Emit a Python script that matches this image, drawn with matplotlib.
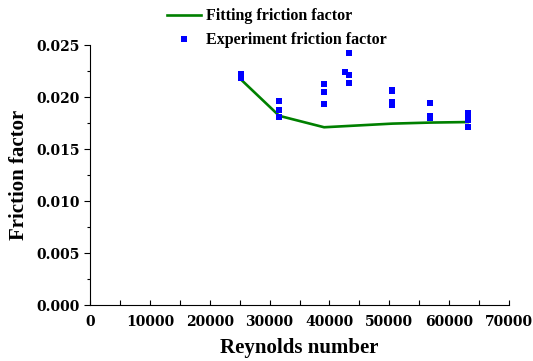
import matplotlib.pyplot as plt
from matplotlib.ticker import MultipleLocator, FuncFormatter

# Experiment points (Reynolds number, friction factor)
exp_re = [25200, 25200, 25200,
          31600, 31600, 31600,
          39100, 39100, 39100,
          42600, 43200, 43200, 43200,
          50500, 50500, 50500, 50500,
          56800, 56800, 56800,
          63100, 63100, 63100, 63100]
exp_f = [0.0222, 0.0220, 0.0218,
         0.0196, 0.0188, 0.0181,
         0.0213, 0.0205, 0.0193,
         0.0224, 0.0242, 0.0221, 0.0214,
         0.0207, 0.0206, 0.0195, 0.0192,
         0.0194, 0.0182, 0.0180,
         0.0185, 0.0182, 0.0178, 0.0171]

# Fitted curve
fit_re = [25200, 31600, 39100, 50500, 56800, 63100]
fit_f = [0.0217, 0.0182, 0.0171, 0.01745, 0.01755, 0.0176]

fig = plt.figure(figsize=(5.33, 3.61), dpi=100)
ax = fig.add_axes([0.169, 0.155, 0.786, 0.72])

ax.plot(fit_re, fit_f, color='#008000', lw=1.9, label='Fitting friction factor')
ax.plot(exp_re, exp_f, 's', color='#0000ff', ms=5, mew=0, label='Experiment friction factor')

ax.set_xlim(0, 70000)
ax.set_ylim(0, 0.025)
ax.xaxis.set_major_locator(MultipleLocator(10000))
ax.xaxis.set_minor_locator(MultipleLocator(5000))
ax.yaxis.set_major_locator(MultipleLocator(0.005))
ax.yaxis.set_minor_locator(MultipleLocator(0.0025))
ax.yaxis.set_major_formatter(FuncFormatter(lambda v, p: f"{v:.3f}"))

for s in ['top', 'right']:
    ax.spines[s].set_visible(False)
ax.tick_params(axis='x', which='both', direction='in', length=3.5, width=0.8, pad=7)
ax.tick_params(axis='y', which='major', direction='out', length=4, width=0.8)
ax.tick_params(axis='y', which='minor', direction='out', length=2, width=0.8)

for lab in ax.get_xticklabels() + ax.get_yticklabels():
    lab.set_fontfamily('DejaVu Serif')
    lab.set_fontweight('bold')
    lab.set_fontsize(10)

ax.set_xlabel('Reynolds number', family='Liberation Serif', weight='bold', size=15, labelpad=7)
ax.set_ylabel('Friction factor', family='Liberation Serif', weight='bold', size=15, labelpad=5)

fig.legend(loc='upper left', bbox_to_anchor=(0.302, 0.995), frameon=False,
           prop={'family': 'Liberation Serif', 'weight': 'bold', 'size': 11.5},
           handlelength=2.1, handletextpad=0.35, labelspacing=0.5, borderaxespad=0)

fig.savefig('out.png', dpi=100)
